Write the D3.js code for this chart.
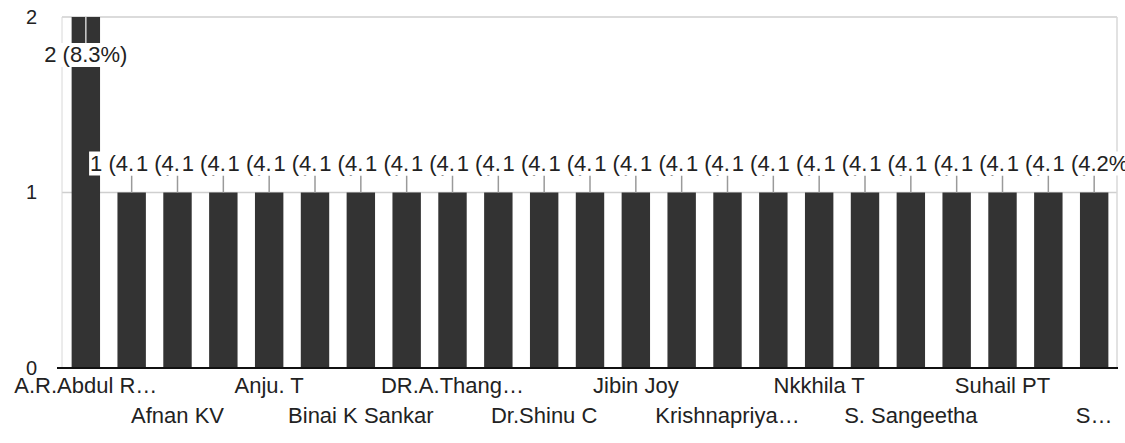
<!DOCTYPE html>
<html>
<head>
<meta charset="utf-8">
<script src="https://cdn.jsdelivr.net/npm/d3@7"></script>
<style>
  html, body { margin: 0; padding: 0; background: #fff; }
  svg { display: block; }
  text { font-family: "Liberation Sans", Arial, sans-serif; fill: #222; }
</style>
</head>
<body>
<svg id="chart" width="1125" height="443"></svg>
<script>
// ---- data ----
const categories = [
  "A.R.Abdul R…", "Abhirami S", "Afnan KV", "Anitha P", "Anju. T", "Aswathy R",
  "Binai K Sankar", "Devika M", "DR.A.Thang…", "Dr. Priya K", "Dr.Shinu C", "Gopika V",
  "Jibin Joy", "Kavya Nair", "Krishnapriya…", "Meera J", "Nkkhila T", "Reshma K",
  "S. Sangeetha", "Sreelakshmi", "Suhail PT", "Swathi M", "S…"
];
const counts = [2, 1, 1, 1, 1, 1, 1, 1, 1, 1, 1, 1, 1, 1, 1, 1, 1, 1, 1, 1, 1, 1, 1];
const percentLabels = [
  "8.3%", "4.1%", "4.1%", "4.1%", "4.1%", "4.1%", "4.1%", "4.1%", "4.1%", "4.1%", "4.1%", "4.1%",
  "4.1%", "4.1%", "4.1%", "4.1%", "4.1%", "4.1%", "4.1%", "4.1%", "4.1%", "4.1%", "4.2%"
];
const yTicks = [0, 1, 2];

// ---- layout ----
const W = 1125, H = 443;
const plot = { left: 62, right: 1118, top: 17, bottom: 368 };
const svg = d3.select("#chart");

const x = d3.scaleBand()
  .domain(categories)
  .range([plot.left, plot.right])
  .paddingInner(0.38)
  .paddingOuter(0.21);

const y = d3.scaleLinear()
  .domain([0, 2])
  .range([plot.bottom, plot.top]);

// gridlines
svg.append("g")
  .selectAll("line")
  .data(yTicks.filter(d => d > 0))
  .join("line")
  .attr("x1", plot.left).attr("x2", 1117)
  .attr("y1", d => y(d)).attr("y2", d => y(d))
  .attr("stroke", "#cfcfcf").attr("stroke-width", 1.5);

// plot frame (left & right light lines)
svg.append("line").attr("x1", plot.left).attr("x2", plot.left)
  .attr("y1", plot.top).attr("y2", plot.bottom)
  .attr("stroke", "#d8d8d8").attr("stroke-width", 1);
svg.append("line").attr("x1", 1117).attr("x2", 1117)
  .attr("y1", plot.top).attr("y2", plot.bottom)
  .attr("stroke", "#d8d8d8").attr("stroke-width", 1.5);

// y axis labels
const yAxis = d3.axisLeft(y).tickValues(yTicks).tickSize(0).tickPadding(0).tickFormat(d3.format("d"));
const gy = svg.append("g").attr("transform", `translate(37,0)`).call(yAxis);
gy.select(".domain").remove();
gy.selectAll("text").attr("font-size", 20).attr("fill", "#222")
  .style("font-family", '"Liberation Sans", Arial, sans-serif');

// bars
svg.append("g")
  .selectAll("rect")
  .data(categories)
  .join("rect")
  .attr("x", d => x(d))
  .attr("width", x.bandwidth())
  .attr("y", (d, i) => y(counts[i]))
  .attr("height", (d, i) => y(0) - y(counts[i]))
  .attr("fill", "#333");

// baseline
svg.append("line")
  .attr("x1", 57).attr("x2", 1118)
  .attr("y1", y(0)).attr("y2", y(0))
  .attr("stroke", "#111").attr("stroke-width", 2);

// x axis labels (every other category, staggered in two rows)
const shown = categories.filter((d, i) => i % 2 === 0);
const xAxis = d3.axisBottom(x).tickValues(shown).tickSize(0).tickPadding(0);
const gx = svg.append("g").attr("transform", `translate(0,${plot.bottom})`).call(xAxis);
gx.select(".domain").remove();
gx.selectAll(".tick text")
  .attr("font-size", 22)
  .attr("fill", "#222")
  .style("font-family", '"Liberation Sans", Arial, sans-serif')
  .attr("dy", null)
  .attr("y", (d, i) => i % 2 === 0 ? 25 : 55)
  .each(function() {
    // keep labels inside the picture
    const bb = this.getBBox();
    const tx = x(d3.select(this.parentNode).datum()) + x.bandwidth() / 2;
    const left = tx + bb.x;
    if (left < 6) d3.select(this).attr("x", 6 - left);
  });

// data labels with leader lines
const labelG = svg.append("g");
const boxH = 24, gap = 17;
categories.forEach((c, i) => {
  const cx = x(c) + x.bandwidth() / 2;
  const top = y(counts[i]);
  let boxTop, lineFrom, lineTo, lineColor;
  if (top - gap - boxH < plot.top) {
    boxTop = top + 26;
    lineFrom = top; lineTo = boxTop;
    lineColor = "#d0d0d0";
  } else {
    boxTop = top - gap - boxH;
    lineFrom = boxTop + boxH; lineTo = top;
    lineColor = "#9a9a9a";
  }
  labelG.append("line")
    .attr("x1", cx).attr("x2", cx).attr("y1", lineFrom).attr("y2", lineTo)
    .attr("stroke", lineColor).attr("stroke-width", 1.5);
  const g = labelG.append("g");
  const t = g.append("text")
    .attr("x", cx).attr("y", boxTop + 19)
    .attr("text-anchor", "middle")
    .attr("font-size", 22)
    .attr("fill", "#222")
    .text(`${counts[i]} (${percentLabels[i]})`);
  const bb = t.node().getBBox();
  g.insert("rect", "text")
    .attr("x", bb.x - 1).attr("y", boxTop)
    .attr("width", bb.width + 2).attr("height", boxH)
    .attr("fill", "#fff");
});
</script>
</body>
</html>
